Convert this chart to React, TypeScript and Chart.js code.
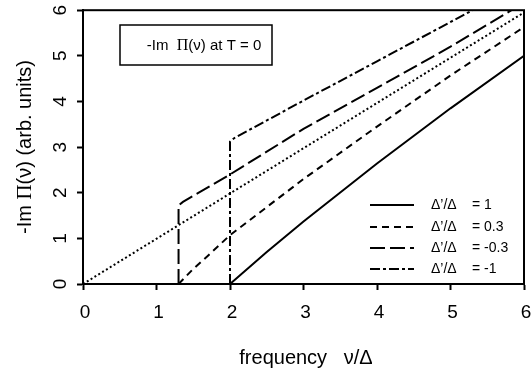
import { useEffect, useRef } from "react";
import { Chart, registerables } from "chart.js";
Chart.register(...registerables);

const xTicks = [0, 1, 2, 3, 4, 5, 6];
const yTicks = [0, 1, 2, 3, 4, 5, 6];
const seriesLabels = ["Δ’/Δ", "Δ’/Δ", "Δ’/Δ", "Δ’/Δ"];
const seriesValues = ["= 1", "= 0.3", "= -0.3", "= -1"];

const solidX = [2, 2.5, 3, 4, 5, 6];
const solidY = [0, 0.7, 1.37, 2.64, 3.85, 5.0];
const shortX = [1.3, 1.5, 1.7, 2, 3, 4, 5, 6];
const shortY = [0, 0.33, 0.62, 1.07, 2.3, 3.45, 4.57, 5.63];
const longX = [1.3, 1.3, 1.36, 2, 3, 4, 5, 5.83];
const longY = [0, 1.72, 1.8, 2.4, 3.4, 4.3, 5.2, 6];
const dashDotX = [2, 2, 2.06, 3, 4, 5.3];
const dashDotY = [0, 3.12, 3.2, 4.02, 4.88, 6];
const dottedX = [0, 6];
const dottedY = [0, 5.95];

const dashes = [[], [7, 5], [15, 5], [10, 3, 3, 3]];

const SANS = "'Liberation Sans', Arial, sans-serif";
const SERIF = "'Liberation Serif', 'Times New Roman', serif";

function pts(xs: number[], ys: number[]) {
  return xs.map((x, i) => ({ x, y: ys[i] }));
}

function drawRich(ctx: CanvasRenderingContext2D, parts: { t: string; f: string }[], x: number, y: number) {
  let total = 0;
  for (const p of parts) {
    ctx.font = p.f;
    total += ctx.measureText(p.t).width;
  }
  let cx = x - total / 2;
  ctx.textAlign = "left";
  ctx.textBaseline = "middle";
  for (const p of parts) {
    ctx.font = p.f;
    ctx.fillText(p.t, cx, y);
    cx += ctx.measureText(p.t).width;
  }
}

const decor = {
  id: "decor",
  afterDraw(chart: any) {
    const ctx: CanvasRenderingContext2D = chart.ctx;
    const { left, right, top, bottom } = chart.chartArea;
    const xs = chart.scales.x;
    const ys = chart.scales.y;
    ctx.save();
    ctx.strokeStyle = "#000";
    ctx.fillStyle = "#000";
    ctx.lineWidth = 2;
    ctx.setLineDash([]);
    ctx.strokeRect(left, top, right - left, bottom - top);

    // x tick labels
    ctx.font = `19px ${SANS}`;
    ctx.textAlign = "center";
    ctx.textBaseline = "middle";
    for (const v of xTicks) {
      ctx.fillText(String(v), xs.getPixelForValue(v) + 2, 313);
    }
    // y tick labels (rotated)
    for (const v of yTicks) {
      ctx.save();
      ctx.translate(61, ys.getPixelForValue(v));
      ctx.rotate(-Math.PI / 2);
      ctx.textAlign = "center";
      ctx.textBaseline = "middle";
      ctx.fillText(String(v), 0, 0);
      ctx.restore();
    }
    // x title
    drawRich(ctx, [
      { t: "frequency   ", f: `20px ${SANS}` },
      { t: "ν/Δ", f: `20px ${SANS}` },
    ], 306, 358);
    // y title
    ctx.save();
    ctx.translate(25, 147);
    ctx.rotate(-Math.PI / 2);
    drawRich(ctx, [
      { t: "-Im ", f: `20px ${SANS}` },
      { t: "Π", f: `21px ${SERIF}` },
      { t: "(ν) (arb. units)", f: `20px ${SANS}` },
    ], 0, 0);
    ctx.restore();

    // title box
    ctx.lineWidth = 1.5;
    ctx.strokeRect(120, 25, 152, 40);
    drawRich(ctx, [
      { t: "-Im  ", f: `15px ${SANS}` },
      { t: "Π", f: `16px ${SERIF}` },
      { t: "(ν) at T = 0", f: `15px ${SANS}` },
    ], 204, 46);

    // legend
    const rows = [205, 227, 248, 269];
    ctx.lineWidth = 1.8;
    rows.forEach((ry, i) => {
      ctx.setLineDash(dashes[i]);
      ctx.beginPath();
      ctx.moveTo(370, ry);
      ctx.lineTo(414, ry);
      ctx.stroke();
      ctx.setLineDash([]);
      ctx.font = `14px ${SANS}`;
      ctx.textAlign = "left";
      ctx.textBaseline = "middle";
      ctx.fillText(seriesLabels[i], 431, ry);
      ctx.fillText(seriesValues[i], 472, ry);
    });
    ctx.restore();
  },
};

export default function App() {
  const ref = useRef<HTMLCanvasElement | null>(null);
  useEffect(() => {
    document.body.style.margin = "0";
    const ds = (xs: number[], ys: number[], dash: number[], w = 2) => ({
      data: pts(xs, ys),
      showLine: true,
      borderColor: "#000",
      borderWidth: w,
      borderDash: dash,
      pointRadius: 0,
      fill: false,
      tension: 0,
    });
    const chart = new Chart(ref.current as HTMLCanvasElement, {
      type: "scatter",
      data: {
        datasets: [
          ds(solidX, solidY, dashes[0]),
          ds(shortX, shortY, dashes[1]),
          ds(longX, longY, dashes[2]),
          ds(dashDotX, dashDotY, dashes[3]),
          ds(dottedX, dottedY, [2, 2.5], 2),
        ] as any,
      },
      options: {
        animation: false,
        responsive: true,
        maintainAspectRatio: false,
        layout: { padding: { left: 0, right: 7, top: 6, bottom: 0 } },
        plugins: { legend: { display: false }, tooltip: { enabled: false } },
        scales: {
          x: {
            type: "linear",
            min: 0,
            max: 6,
            afterFit: (s: any) => { s.height = 84; },
            ticks: { stepSize: 1, color: "rgba(0,0,0,0)" },
            grid: { display: true, drawOnChartArea: false, drawTicks: true, tickLength: 6, tickColor: "#000", tickWidth: 2 },
            border: { display: true, color: "#000", width: 2 },
          },
          y: {
            type: "linear",
            min: 0,
            max: 6,
            afterFit: (s: any) => { s.width = 83; },
            ticks: { stepSize: 1, color: "rgba(0,0,0,0)" },
            grid: { display: true, drawOnChartArea: false, drawTicks: true, tickLength: 6, tickColor: "#000", tickWidth: 2 },
            border: { display: true, color: "#000", width: 2 },
          },
        },
      } as any,
      plugins: [decor],
    });
    return () => chart.destroy();
  }, []);
  return (
    <div style={{ position: "fixed", left: 0, top: 0, width: 531, height: 368, background: "#fff" }}>
      <canvas ref={ref} />
    </div>
  );
}
